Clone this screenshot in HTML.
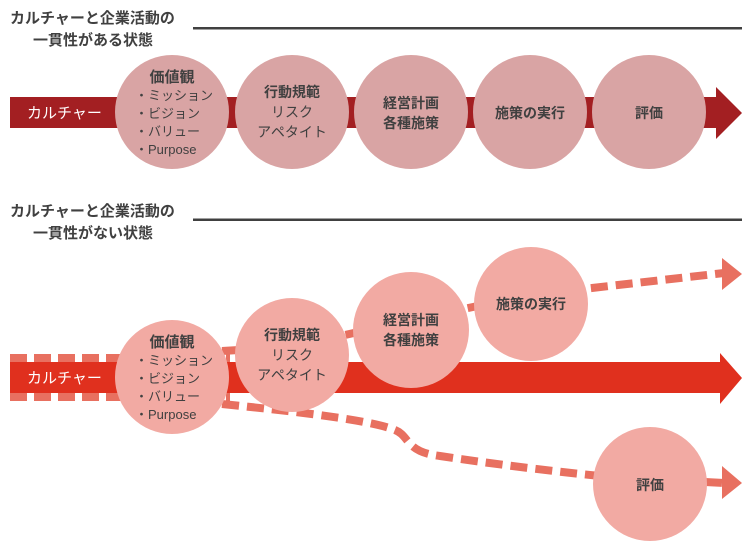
<!DOCTYPE html>
<html><head><meta charset="utf-8"><style>
html,body{margin:0;padding:0;background:#fff;width:752px;height:551px;overflow:hidden}
svg{display:block}
text{font-family:"Liberation Sans","Noto Sans CJK JP",sans-serif;fill:#404040}
.h{font-size:15px;font-weight:bold}
.b{font-size:14px;font-weight:bold;text-anchor:middle}
.n{font-size:14px;text-anchor:middle}
.s{font-size:13px}
.w{fill:#fff;font-size:15px}
</style></head><body>
<svg width="752" height="551" viewBox="0 0 752 551" xmlns="http://www.w3.org/2000/svg">
<!-- top section -->
<text class="h" x="10" y="23">カルチャーと企業活動の</text>
<text class="h" x="33" y="45">一貫性がある状態</text>
<rect x="193" y="27" width="549" height="2.5" fill="#404040"/>
<rect x="10" y="97" width="708" height="31" fill="#a31f22"/>
<polygon points="716,87 742,113 716,139" fill="#a31f22"/>
<text class="w" x="27" y="118">カルチャー</text>
<g fill="#d9a4a4">
<circle cx="172" cy="112" r="57"/><circle cx="292" cy="112" r="57"/><circle cx="411" cy="112" r="57"/><circle cx="530" cy="112" r="57"/><circle cx="649" cy="112" r="57"/>
</g>
<text class="b" x="172" y="82" style="font-size:15px">価値観</text>
<text class="s" x="135" y="100">・ミッション</text>
<text class="s" x="135" y="118">・ビジョン</text>
<text class="s" x="135" y="136">・バリュー</text>
<text class="s" x="135" y="154">・Purpose</text>
<text class="b" x="292" y="97">行動規範</text>
<text class="n" x="292" y="117">リスク</text>
<text class="n" x="292" y="137">アペタイト</text>
<text class="b" x="411" y="108">経営計画</text>
<text class="b" x="411" y="128">各種施策</text>
<text class="b" x="530" y="118">施策の実行</text>
<text class="b" x="649" y="118">評価</text>

<!-- bottom section -->
<text class="h" x="10" y="216">カルチャーと企業活動の</text>
<text class="h" x="33" y="238">一貫性がない状態</text>
<rect x="193" y="218.5" width="549" height="2.5" fill="#404040"/>
<line x1="10" y1="358" x2="230" y2="358" stroke="#e87060" stroke-width="8" stroke-dasharray="17,7"/>
<line x1="10" y1="397" x2="230" y2="397" stroke="#e87060" stroke-width="8" stroke-dasharray="17,7"/>
<rect x="10" y="362" width="712" height="31" fill="#e0301e"/>
<polygon points="720,353 742,378 720,404" fill="#e0301e"/>
<text class="w" x="27" y="383">カルチャー</text>
<g fill="none" stroke="#e87060" stroke-width="8" stroke-dasharray="17,8">
<polyline points="222,351 292,347 411,320 530,295 724,273"/>
<path d="M222,404 C300,412 370,420 395,430 C410,436 405,452 440,456 C500,465 560,472 600,476"/>
<line x1="705" y1="482" x2="724" y2="483"/>
</g>
<polygon points="722,258 742,274 722,290" fill="#e87060"/>
<polygon points="722,466 742,483 722,499" fill="#e87060"/>
<g fill="#f2aaa3">
<circle cx="292" cy="355" r="57"/><circle cx="411" cy="330" r="58"/><circle cx="531" cy="304" r="57"/><circle cx="650" cy="484" r="57"/><circle cx="172" cy="377" r="57"/>
</g>
<text class="b" x="172" y="347" style="font-size:15px">価値観</text>
<text class="s" x="135" y="365">・ミッション</text>
<text class="s" x="135" y="383">・ビジョン</text>
<text class="s" x="135" y="401">・バリュー</text>
<text class="s" x="135" y="419">・Purpose</text>
<text class="b" x="292" y="340">行動規範</text>
<text class="n" x="292" y="360">リスク</text>
<text class="n" x="292" y="380">アペタイト</text>
<text class="b" x="411" y="325">経営計画</text>
<text class="b" x="411" y="345">各種施策</text>
<text class="b" x="531" y="309">施策の実行</text>
<text class="b" x="650" y="490">評価</text>
</svg>
</body></html>
